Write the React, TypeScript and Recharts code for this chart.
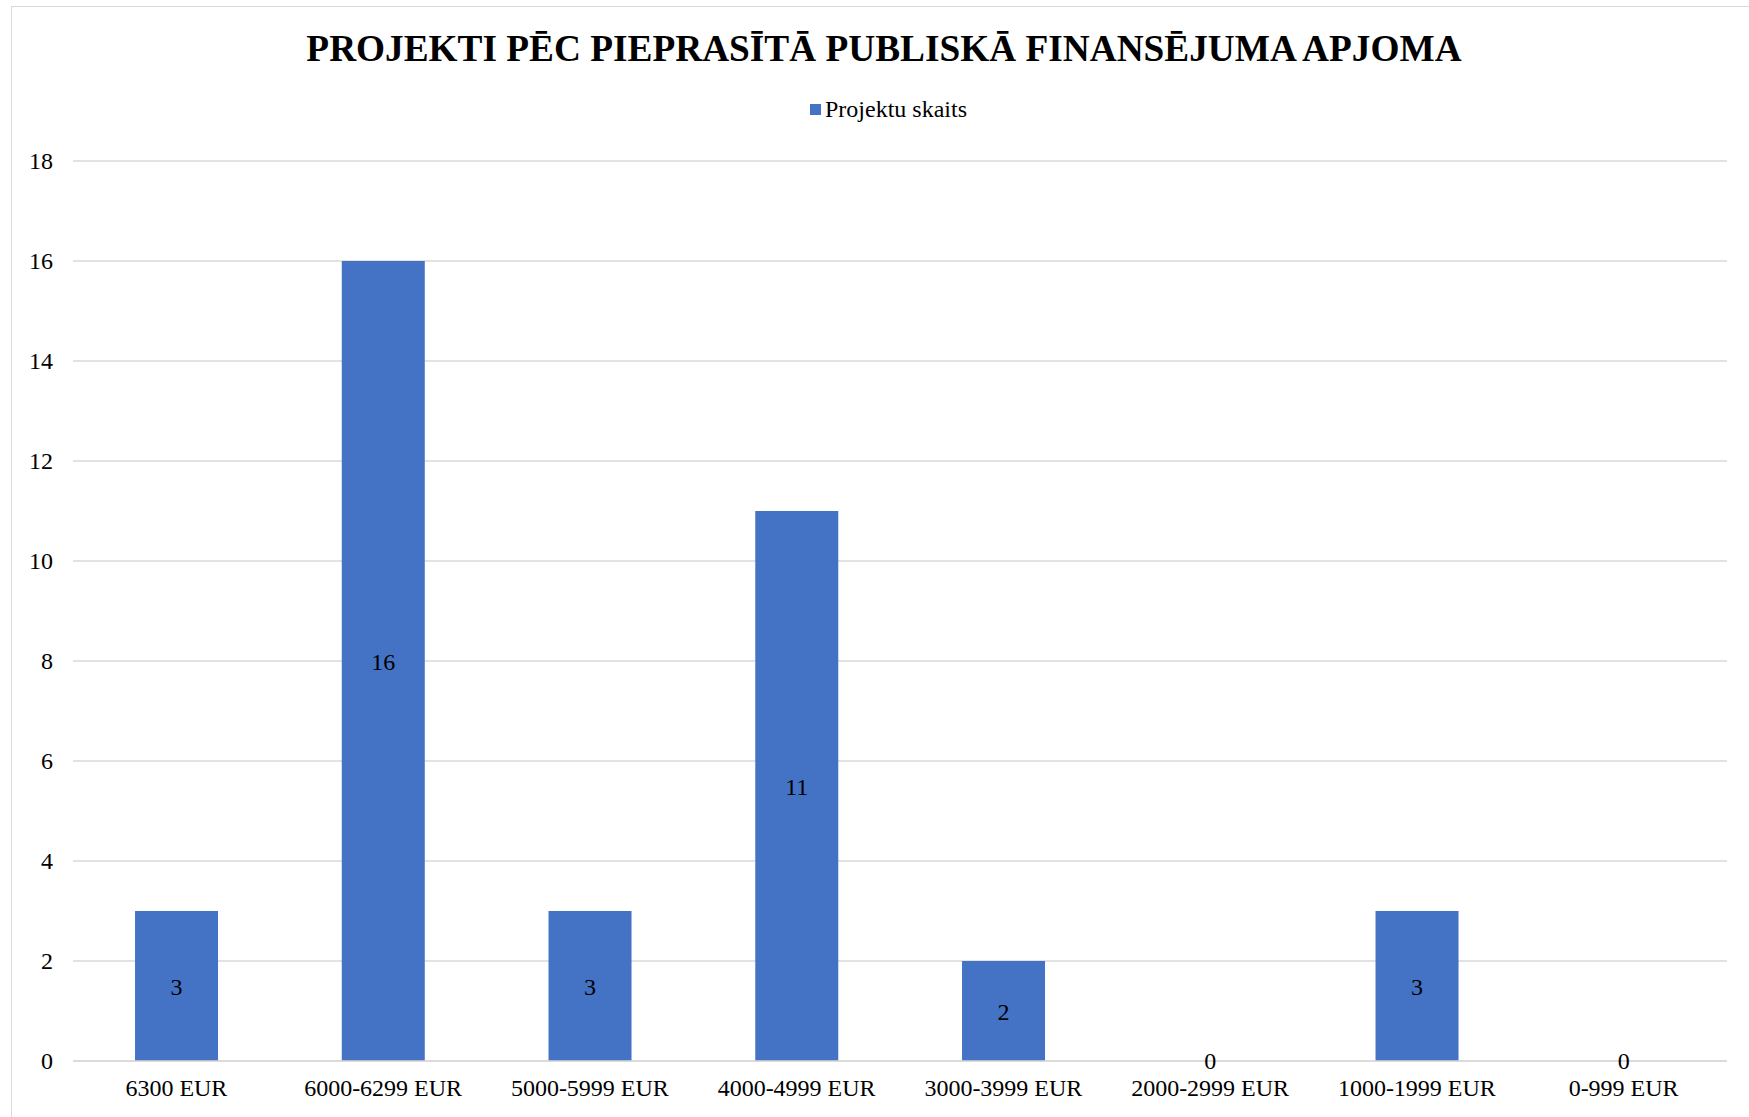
import { ComposedChart, Bar, Line, XAxis, YAxis, CartesianGrid, Legend, LabelList } from "recharts";

const chartTitle = "PROJEKTI PĒC PIEPRASĪTĀ PUBLISKĀ FINANSĒJUMA APJOMA";
const seriesName = "Projektu skaits";
const categories = [
  "6300 EUR",
  "6000-6299 EUR",
  "5000-5999 EUR",
  "4000-4999 EUR",
  "3000-3999 EUR",
  "2000-2999 EUR",
  "1000-1999 EUR",
  "0-999 EUR",
];
const projectCounts = [3, 16, 3, 11, 2, 0, 3, 0];
const yTicks = [0, 2, 4, 6, 8, 10, 12, 14, 16, 18];

const FONT = '"Liberation Serif", "Times New Roman", serif';
const BLUE = "#4472C4";
const GRID = "#d9d9d9";

function LegendRow({ payload }: any) {
  const item = payload && payload.find((p: any) => p.dataKey === "count");
  return (
    <div style={{ position: "relative", height: 161, width: 1749 }}>
      <div
        style={{
          position: "absolute",
          left: 810,
          top: 104,
          width: 11,
          height: 11,
          background: BLUE,
        }}
      />
      <div
        style={{
          position: "absolute",
          left: 825,
          top: 97,
          fontFamily: FONT,
          fontSize: 24,
          lineHeight: "24px",
          color: "#000",
          whiteSpace: "nowrap",
        }}
      >
        {item ? item.value : seriesName}
      </div>
    </div>
  );
}

// zero-height bars get no rectangle, so their "0" labels are drawn from a hidden line
function ZeroLabel({ x, y, value }: any) {
  if (value === null || value === undefined) return null;
  return (
    <text
      x={x}
      y={y}
      textAnchor="middle"
      dominantBaseline="central"
      fill="#000"
      style={{ fontFamily: FONT, fontSize: 24 }}
    >
      {value}
    </text>
  );
}

export default function App() {
  const data = categories.map((range, i) => ({
    range,
    count: projectCounts[i],
    zeroLabel: projectCounts[i] === 0 ? 0 : null,
  }));

  return (
    <div
      style={{
        position: "absolute",
        left: 0,
        top: 0,
        width: 1749,
        height: 1117,
        background: "#fff",
        overflow: "hidden",
        fontFamily: FONT,
      }}
    >
      {/* chart frame, only left and top edges are visible */}
      <div
        style={{
          position: "absolute",
          left: 11,
          top: 6,
          width: 1780,
          height: 1200,
          border: `1.5px solid ${GRID}`,
        }}
      />
      <div
        style={{
          position: "absolute",
          left: 0,
          top: 29,
          width: 1768,
          textAlign: "center",
          fontFamily: FONT,
          fontWeight: "bold",
          fontSize: 37.3,
          lineHeight: "40px",
          color: "#000",
          whiteSpace: "nowrap",
        }}
      >
        {chartTitle}
      </div>
      <div style={{ position: "absolute", left: 0, top: 0 }}>
        <ComposedChart
          width={1749}
          height={1117}
          data={data}
          margin={{ top: 0, right: 22, bottom: 0, left: 0 }}
          barCategoryGap="30%"
        >
          <CartesianGrid vertical={false} stroke={GRID} strokeWidth={1.5} />
          <XAxis
            dataKey="range"
            height={56}
            axisLine={{ stroke: GRID, strokeWidth: 1.5 }}
            tickLine={false}
            tickSize={0}
            tickMargin={18}
            interval={0}
            tick={{ fontFamily: FONT, fontSize: 24, fill: "#000" }}
          />
          <YAxis
            width={73}
            domain={[0, 18]}
            ticks={yTicks}
            axisLine={false}
            tickLine={false}
            tickSize={0}
            tickMargin={20}
            tick={{ fontFamily: FONT, fontSize: 24, fill: "#000", dy: -1 }}
          />
          <Legend
            verticalAlign="top"
            align="left"
            wrapperStyle={{ top: 0, left: 0, width: 1749 }}
            content={<LegendRow />}
          />
          <Bar dataKey="count" name={seriesName} fill={BLUE} isAnimationActive={false}>
            <LabelList
              dataKey="count"
              position="center"
              fill="#000"
              style={{ fontFamily: FONT, fontSize: 24 }}
            />
          </Bar>
          <Line
            dataKey="zeroLabel"
            stroke="none"
            dot={false}
            activeDot={false}
            legendType="none"
            isAnimationActive={false}
          >
            <LabelList dataKey="zeroLabel" content={<ZeroLabel />} />
          </Line>
        </ComposedChart>
      </div>
    </div>
  );
}
